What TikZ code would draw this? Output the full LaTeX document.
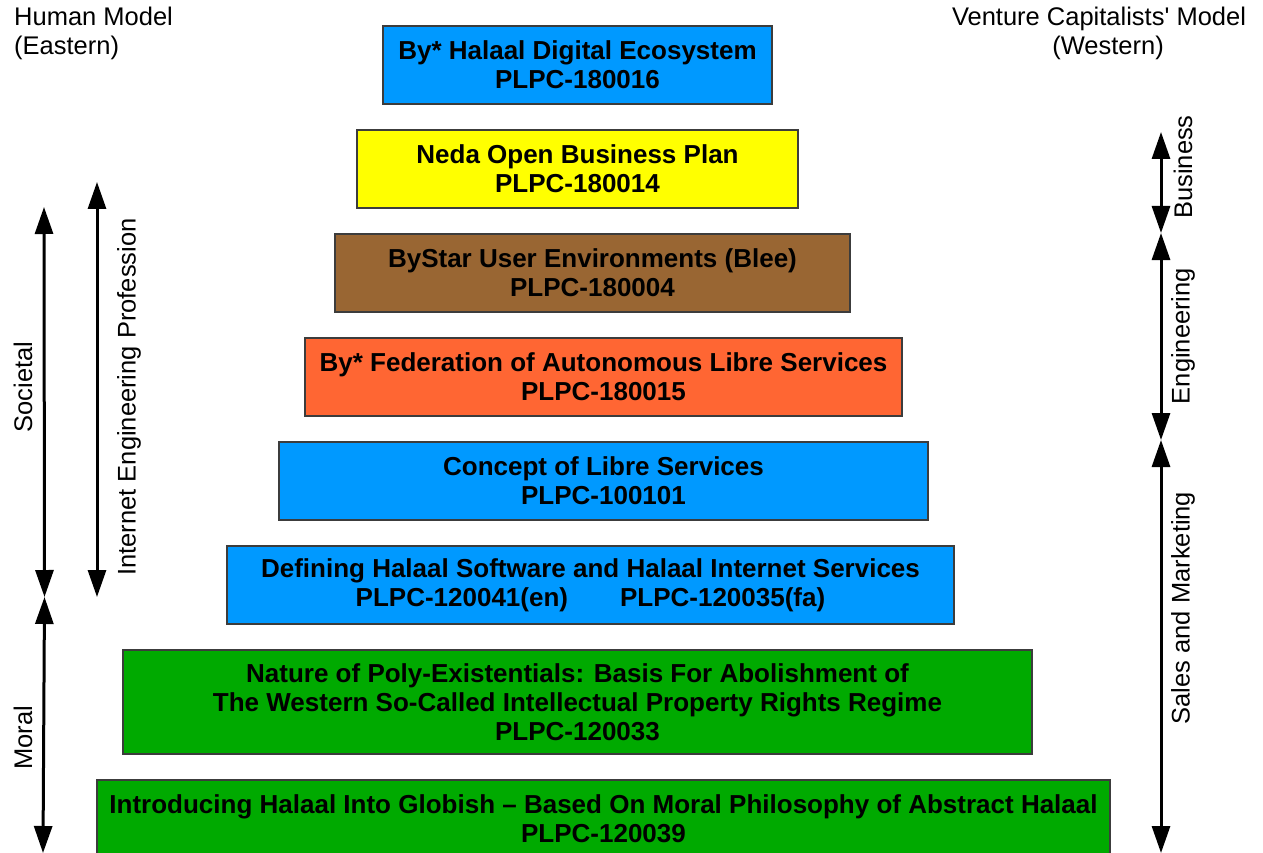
\documentclass[tikz,border=0pt]{standalone}
\usepackage{fontspec}
\setmainfont{Liberation Sans}[Ligatures=TeXOff]
\usetikzlibrary{arrows.meta}
\definecolor{boxborder}{HTML}{3C3C3C}
\definecolor{cblue}{HTML}{0099FF}
\definecolor{cyellow}{HTML}{FFFF00}
\definecolor{cbrown}{HTML}{996633}
\definecolor{corange}{HTML}{FF6633}
\definecolor{cgreen}{HTML}{00AA00}
\begin{document}
\begin{tikzpicture}[x=1pt,y=-1pt,
  box/.style={draw=boxborder, line width=1.5pt, minimum height=78pt, inner sep=0pt,
    font=\bfseries\fontsize{26}{29}\selectfont, align=center},
  lbl/.style={font=\fontsize{25.5}{28.5}\selectfont, inner sep=0pt},
  dbl/.style={line width=3pt, {Triangle[length=27pt,width=18pt]}-{Triangle[length=27pt,width=18pt]}}]
\useasboundingbox (0,0) rectangle (1263,853);
\fill[white] (0,0) rectangle (1263,853);

% boxes (center, width, height)
\node[box, fill=cblue,   minimum width=389pt] (b1) at (577.5,65) {By* Halaal Digital Ecosystem\\PLPC-180016};
\node[box, fill=cyellow, minimum width=441pt] (b2) at (577.5,169) {Neda Open Business Plan\\PLPC-180014};
\node[box, fill=cbrown,  minimum width=515pt] (b3) at (592.5,273) {ByStar User Environments (Blee)\\PLPC-180004};
\node[box, fill=corange, minimum width=597pt] (b4) at (603.5,377) {By* Federation of Autonomous Libre Services\\PLPC-180015};
\node[box, fill=cblue,   minimum width=649pt] (b5) at (603.5,481) {Concept of Libre Services\\PLPC-100101};
\node[box, fill=cblue,   minimum width=727pt] (b6) at (590.5,585) {Defining Halaal Software and Halaal Internet Services\\PLPC-120041(en)\hspace{52pt}PLPC-120035(fa)};
\node[box, fill=cgreen,  minimum width=909pt, minimum height=104pt] (b7) at (577.5,702) {Nature of Poly-Existentials: Basis For Abolishment of\\The Western So-Called Intellectual Property Rights Regime\\PLPC-120033};
\node[box, fill=cgreen,  minimum width=1013pt] (b8) at (603.5,819) {Introducing Halaal Into Globish – Based On Moral Philosophy of Abstract Halaal\\PLPC-120039};

% headings
\node[lbl, align=left, anchor=north west] (hl) at (14,7) {Human Model\\(Eastern)};
\node[lbl, align=center, anchor=north] (hr) at (1099,7) {Venture Capitalists' Model\\\hspace*{18pt}(Western)};

% left arrows
\coordinate (s1) at (44,207);
\coordinate (s2) at (44.5,597);
\coordinate (m2) at (43,853);
\coordinate (i1) at (97,182);
\coordinate (i2) at (97,597);
\draw[dbl] (s1) -- (s2);
\draw[dbl] (s2) -- (m2);
\draw[dbl] (i1) -- (i2);
\node[lbl, rotate=90] (ls) at (23,387) {Societal};
\node[lbl, rotate=90] (lm) at (23,738) {Moral};
\node[lbl, rotate=90] (li) at (129,397) {Internet Engineering Profession};

% right arrows
\coordinate (r1) at (1161,132);
\coordinate (r2) at (1161,233);
\coordinate (r3) at (1161,440);
\coordinate (r4) at (1161,853);
\draw[dbl] (r1) -- (r2);
\draw[dbl] (r2) -- (r3);
\draw[dbl] (r3) -- (r4);
\node[lbl, rotate=90] (rb) at (1183,167) {Business};
\node[lbl, rotate=90] (re) at (1183,336) {Engineering};
\node[lbl, rotate=90] (rs) at (1183,608) {Sales and Marketing};
\end{tikzpicture}
\end{document}
